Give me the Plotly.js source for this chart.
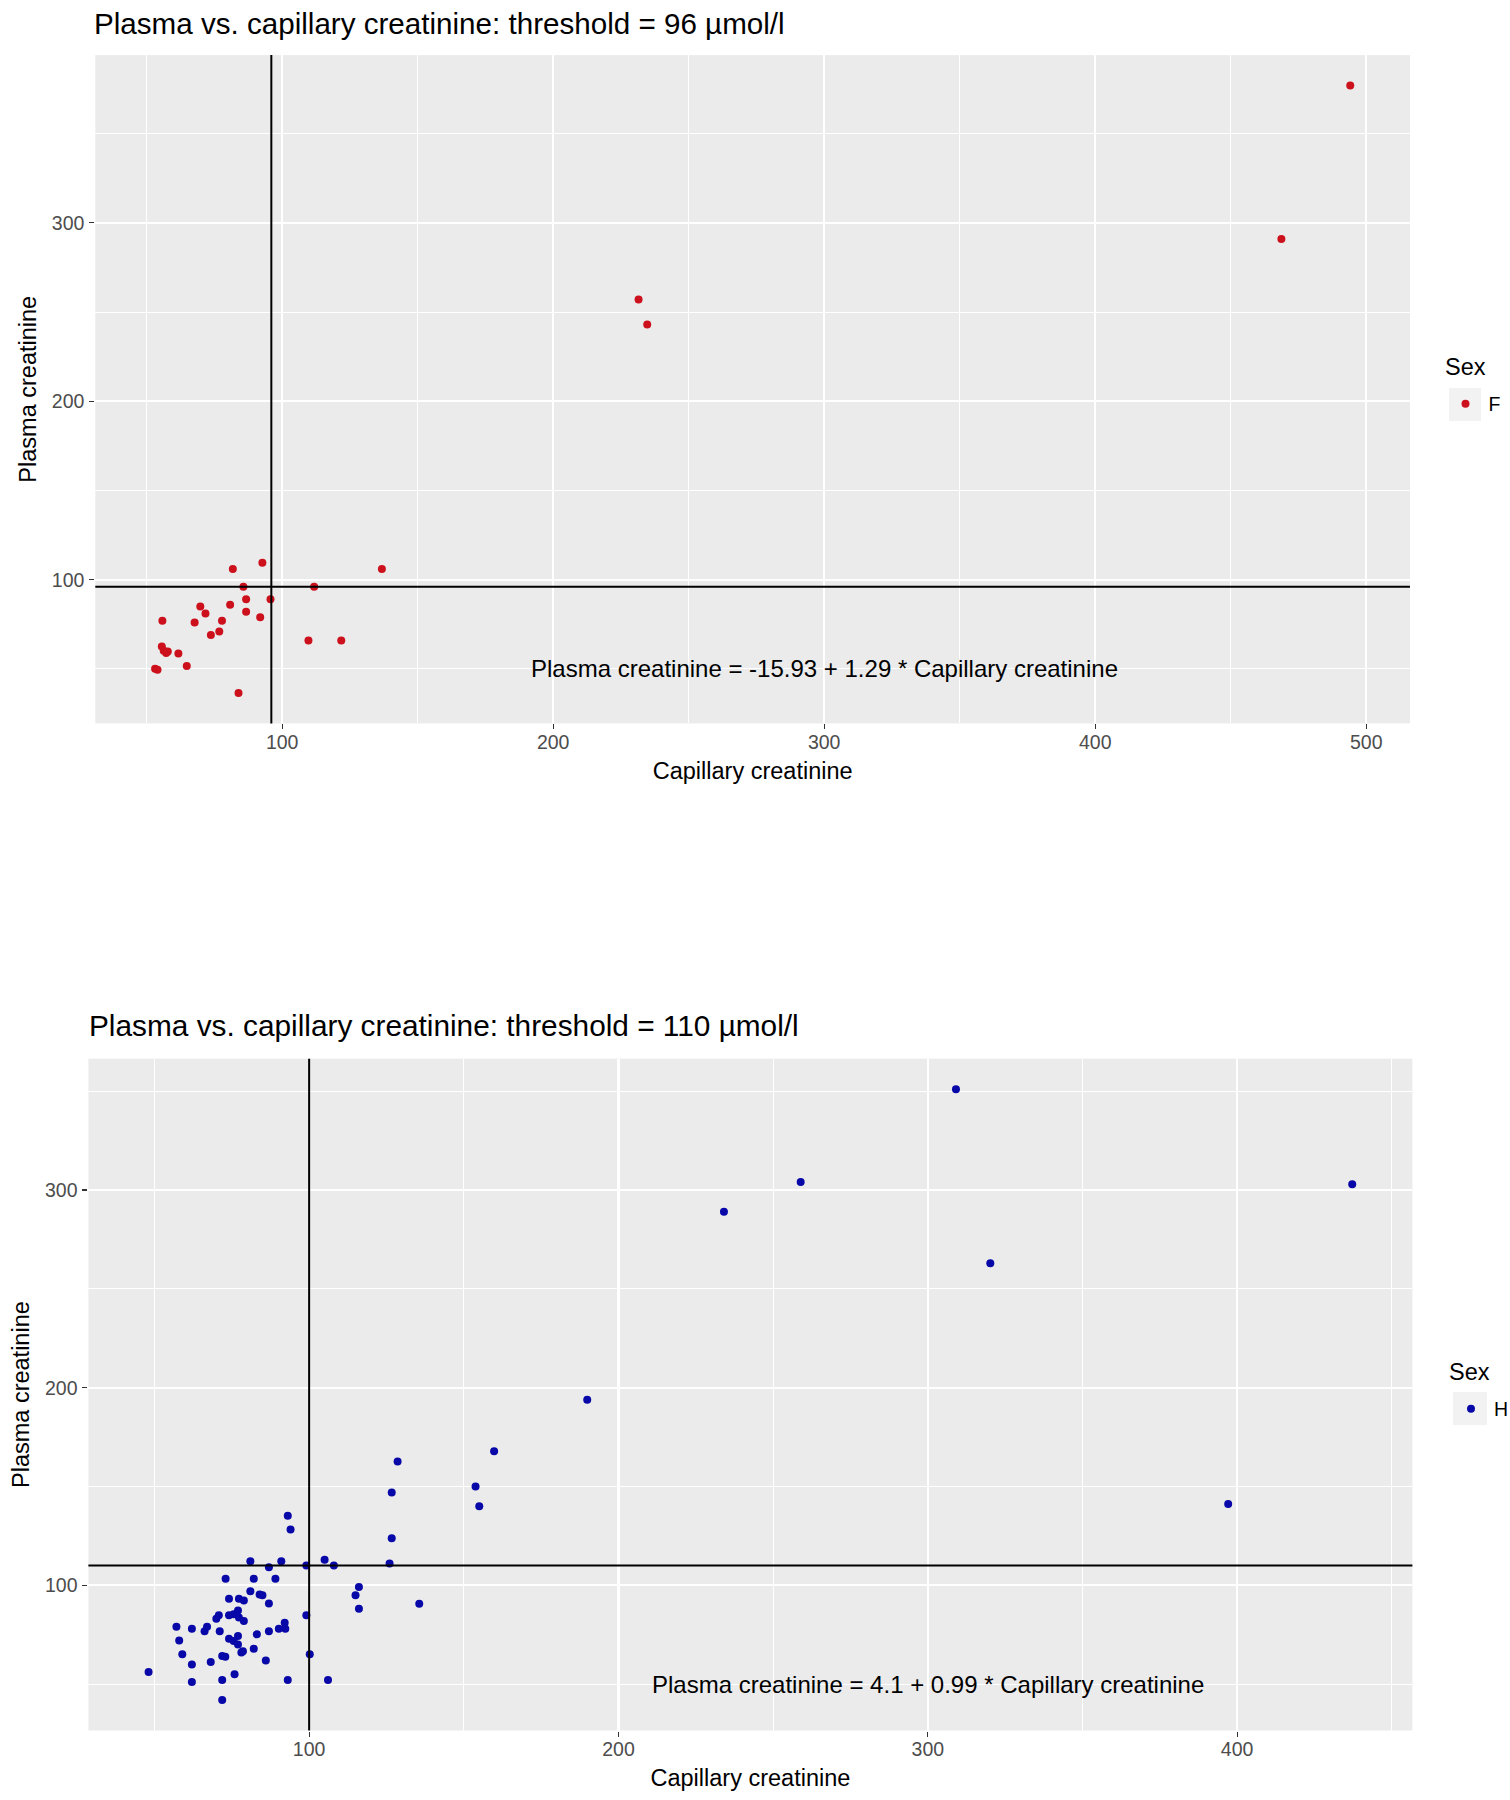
<!DOCTYPE html>
<html>
<head>
<meta charset="utf-8">
<script src="https://cdn.plot.ly/plotly-3.0.1.min.js"></script>
<style>
  html, body { margin: 0; padding: 0; background: #ffffff; }
  #chart { width: 1510px; height: 1800px; }
</style>
</head>
<body>
<div id="chart"></div>
<script>
// ---------- Data ----------
// Top panel: women (Sex = F), threshold 96 µmol/l
const topCapillary = [494.1, 468.7, 231.5, 234.7, 81.8, 92.7, 136.8, 85.7, 111.8, 86.7, 95.7, 69.8, 80.8, 71.7, 86.7, 91.9, 55.8, 67.7, 77.8, 76.8, 73.7, 109.7, 121.8, 55.6, 56.3, 57.2, 57.8, 61.7, 64.8, 53.1, 54.0, 83.9];
const topPlasma    = [377, 291, 257, 243, 106, 109.5, 106, 96, 96, 89, 89, 85, 86, 81, 82, 79, 77, 76, 77, 71, 69, 66, 66, 62.6, 60.2, 59.0, 59.8, 58.7, 51.6, 50.1, 49.5, 36.5];
const topSex = "F";
const topVLine = 96;
const topHLine = 96;
const topTitle = "Plasma vs. capillary creatinine: threshold = 96 µmol/l";
const topEquation = "Plasma creatinine = -15.93 + 1.29 * Capillary creatinine";

// Bottom panel: men (Sex = H), threshold 110 µmol/l
const botCapillary = [309.1, 258.9, 234.1, 437.2, 320.2, 189.9, 159.8, 128.6, 126.7, 153.8, 155, 126.7, 397.1, 126, 135.6, 116.1, 115, 116.1, 93.1, 94, 81, 91, 87, 99.1, 105, 108, 73, 82.1, 89.1, 81, 84, 84.9, 74.1, 77.3, 78.9, 87, 77, 74.1, 70.8, 70, 75.6, 77.3, 78.9, 99.1, 57.1, 62.1, 66.2, 67, 71.1, 87, 90.2, 92.1, 92.3, 83.1, 58, 74.1, 77, 75.6, 77, 78.6, 78.1, 82.1, 59, 71.9, 72.9, 62.1, 68.2, 86, 100.2, 48.1, 75.9, 62.1, 71.9, 93.1, 106.1, 71.9];
const botPlasma    = [351, 304.1, 289, 302.9, 262.9, 193.9, 167.8, 162.6, 147, 150, 140, 123.8, 141.2, 111, 90.7, 99.2, 95, 88.1, 135.2, 128.2, 112.2, 112.2, 109.1, 110, 113, 110, 103.3, 103.3, 103.3, 97, 95.4, 95, 93.2, 93.2, 92.3, 90.8, 87.3, 84.8, 84.8, 83.1, 85.4, 83.7, 81.9, 84.9, 79, 78, 76.8, 79, 76.8, 76.8, 78, 81.1, 78, 75.2, 72.1, 73, 74.3, 71.8, 70.1, 66.7, 66, 67.9, 65.1, 64.2, 63.9, 60, 61.2, 62, 65.1, 56.1, 55, 51.1, 52.1, 52.1, 52.1, 42];
const botSex = "H";
const botVLine = 100;
const botHLine = 110;
const botTitle = "Plasma vs. capillary creatinine: threshold = 110 µmol/l";
const botEquation = "Plasma creatinine = 4.1 + 0.99 * Capillary creatinine";

const equationX = 300;
const equationY = 50;
const xTitle = "Capillary creatinine";
const yTitle = "Plasma creatinine";
const legendTitle = "Sex";

// ---------- Helpers ----------
const W = 1510, H = 1800;
const px = v => v / W;
const py = v => 1 - v / H;
function expandRange(vals) {
  const mn = Math.min(...vals), mx = Math.max(...vals);
  const d = mx - mn;
  return [mn - 0.05 * d, mx + 0.05 * d];
}

const FONT = "Liberation Sans, Arial, Helvetica, sans-serif";
const red = "#CC101C";
const blue = "#0808A8";

function axisStyle(range, domain, anchor, titleText, isX) {
  return {
    range: range,
    domain: domain,
    anchor: anchor,
    tick0: 0,
    dtick: 100,
    ticks: "outside",
    ticklen: 5,
    tickwidth: 1.2,
    tickcolor: "#333333",
    ticklabelstandoff: isX ? -4 : 1,
    tickfont: { family: FONT, size: 19.5, color: "#4D4D4D" },
    showgrid: true,
    gridcolor: "#FFFFFF",
    gridwidth: 2.2,
    minor: { dtick: 50, tick0: 0, showgrid: true, gridcolor: "#FFFFFF", gridwidth: 1.1, ticks: "" },
    zeroline: false,
    showline: false,
    fixedrange: true,
    automargin: false,
    title: { text: titleText, font: { family: FONT, size: 23.5, color: "#000000" }, standoff: isX ? 10 : 8 }
  };
}

const traces = [
  {
    x: topCapillary, y: topPlasma, xaxis: "x", yaxis: "y",
    type: "scatter", mode: "markers", name: topSex,
    marker: { color: red, size: 8 },
    legend: "legend", showlegend: true, hoverinfo: "x+y"
  },
  {
    x: botCapillary, y: botPlasma, xaxis: "x2", yaxis: "y2",
    type: "scatter", mode: "markers", name: botSex,
    marker: { color: blue, size: 8 },
    legend: "legend2", showlegend: true, hoverinfo: "x+y"
  }
];

const topXRange = expandRange(topCapillary.concat([topVLine, equationX]));
const topYRange = expandRange(topPlasma.concat([topHLine, equationY]));
const botXRange = expandRange(botCapillary.concat([botVLine, equationX]));
const botYRange = expandRange(botPlasma.concat([botHLine, equationY]));

const legendStyle = (x, y) => ({
  x: px(x), y: py(y), xanchor: "left", yanchor: "top",
  bgcolor: "rgba(0,0,0,0)",
  itemwidth: 36,
  font: { family: FONT, size: 19.5, color: "#000000" }
});

const layout = {
  width: W,
  height: H,
  margin: { l: 0, r: 0, t: 0, b: 0, autoexpand: false },
  paper_bgcolor: "#FFFFFF",
  plot_bgcolor: "#EBEBEB",
  font: { family: FONT, color: "#000000" },
  xaxis: axisStyle(topXRange, [px(95.3), px(1410)], "y", xTitle, true),
  yaxis: axisStyle(topYRange, [py(723.4), py(55.1)], "x", yTitle, false),
  xaxis2: axisStyle(botXRange, [px(88.4), px(1412.4)], "y2", xTitle, true),
  yaxis2: axisStyle(botYRange, [py(1730.5), py(1058.7)], "x2", yTitle, false),
  legend: legendStyle(1442.5, 384.5),
  legend2: legendStyle(1448, 1389.5),
  shapes: [
    { type: "line", xref: "x", yref: "y domain", x0: topVLine, x1: topVLine, y0: 0, y1: 1, line: { color: "#000000", width: 2 } },
    { type: "line", xref: "x domain", yref: "y", x0: 0, x1: 1, y0: topHLine, y1: topHLine, line: { color: "#000000", width: 2 } },
    { type: "line", xref: "x2", yref: "y2 domain", x0: botVLine, x1: botVLine, y0: 0, y1: 1, line: { color: "#000000", width: 2 } },
    { type: "line", xref: "x2 domain", yref: "y2", x0: 0, x1: 1, y0: botHLine, y1: botHLine, line: { color: "#000000", width: 2 } },
    // legend key backgrounds
    { type: "rect", xref: "paper", yref: "paper", layer: "below", x0: px(1449), x1: px(1481), y0: py(421), y1: py(388), fillcolor: "#F2F2F2", line: { width: 0 } },
    { type: "rect", xref: "paper", yref: "paper", layer: "below", x0: px(1453), x1: px(1487), y0: py(1425), y1: py(1392), fillcolor: "#F2F2F2", line: { width: 0 } }
  ],
  annotations: [
    { text: topTitle, xref: "paper", yref: "paper", x: px(92), y: py(23), xanchor: "left", yanchor: "middle", showarrow: false, font: { family: FONT, size: 29.6, color: "#000000" } },
    { text: botTitle, xref: "paper", yref: "paper", x: px(87), y: py(1025), xanchor: "left", yanchor: "middle", showarrow: false, font: { family: FONT, size: 29.8, color: "#000000" } },
    { text: topEquation, xref: "x", yref: "y", x: equationX, y: equationY, xanchor: "center", yanchor: "middle", showarrow: false, font: { family: FONT, size: 24, color: "#000000" } },
    { text: botEquation, xref: "x2", yref: "y2", x: equationX, y: equationY, xanchor: "center", yanchor: "middle", showarrow: false, font: { family: FONT, size: 24, color: "#000000" } },
    { text: legendTitle, xref: "paper", yref: "paper", x: px(1443), y: py(367.5), xanchor: "left", yanchor: "middle", showarrow: false, font: { family: FONT, size: 23.5, color: "#000000" } },
    { text: legendTitle, xref: "paper", yref: "paper", x: px(1447), y: py(1372), xanchor: "left", yanchor: "middle", showarrow: false, font: { family: FONT, size: 23.5, color: "#000000" } }
  ]
};

Plotly.newPlot("chart", traces, layout, { displayModeBar: false, staticPlot: true });
</script>
</body>
</html>
